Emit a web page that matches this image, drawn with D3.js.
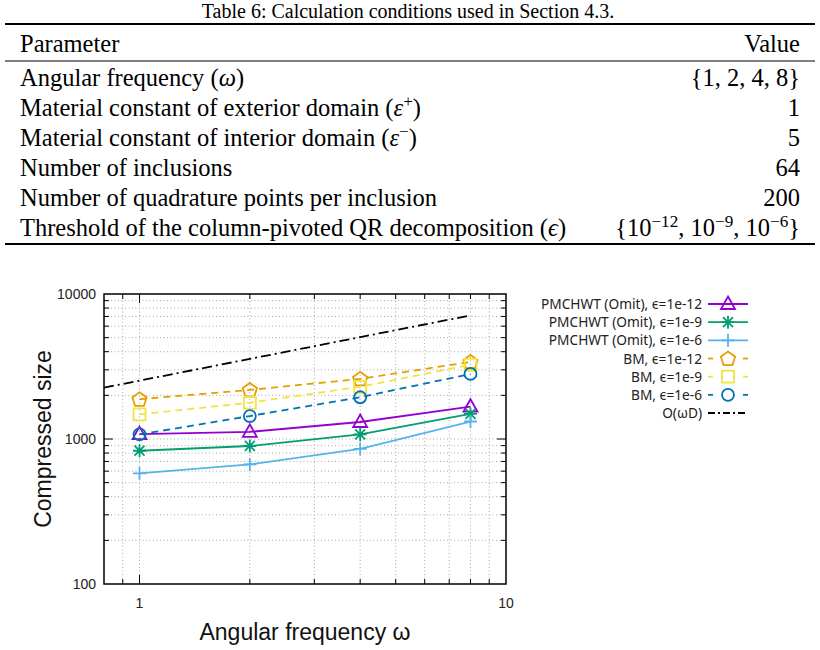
<!DOCTYPE html>
<meta charset="utf-8">
<script src="https://d3js.org/d3.v7.min.js"></script>
<style>
    body { margin: 0; background: #fff; }
    .tbl text { font-family: "Liberation Serif", serif; fill: #000; }
    .tick-label { font-family: "Liberation Sans", Arial, sans-serif; font-size: 14px; fill: #222; }
    .axis-title { font-family: "Liberation Sans", Arial, sans-serif; font-size: 23px; fill: #111; }
    .legend text { font-family: "Noto Sans", sans-serif; font-size: 13.7px; fill: #222; }
    .grid line { stroke: #aaa; stroke-width: 1; stroke-dasharray: 1,2.5; }
</style>
<body>
<svg width="820" height="650" id="chart"></svg>
</body>
<script>
    // ---- table ----
    const caption = 'Table 6: Calculation conditions used in Section 4.3.';
    const headers = ['Parameter', 'Value'];
    const paramNames = [
        'Angular frequency ($ω$)',
        'Material constant of exterior domain ($ε$^{+})',
        'Material constant of interior domain ($ε$^{−})',
        'Number of inclusions',
        'Number of quadrature points per inclusion',
        'Threshold of the column-pivoted QR decomposition ($ϵ$)'
    ];
    const paramValues = [
        '{1, 2, 4, 8}',
        '1',
        '5',
        '64',
        '200',
        '{10^{−12}, 10^{−9}, 10^{−6}}'
    ];

    // ---- chart data ----
    const omega = [1, 2, 4, 8];
    const pmchwt12 = [1080, 1120, 1310, 1670];
    const pmchwt9 = [830, 895, 1075, 1490];
    const pmchwt6 = [580, 668, 855, 1320];
    const bm12 = [1880, 2180, 2600, 3400];
    const bm9 = [1480, 1780, 2290, 3250];
    const bm6 = [1075, 1440, 1940, 2810];
    const refOmega = [0.8, 8];
    const refSize = [2260, 7120];

    const xTickLabels = [1, 10];
    const yTickLabels = [100, 1000, 10000];

    const seriesNames = [
        'PMCHWT (Omit), ϵ=1e-12',
        'PMCHWT (Omit), ϵ=1e-9',
        'PMCHWT (Omit), ϵ=1e-6',
        'BM, ϵ=1e-12',
        'BM, ϵ=1e-9',
        'BM, ϵ=1e-6',
        'O(ωD)'
    ];
    const seriesColors = ['#9400d3', '#009e73', '#56b4e9', '#e69f00', '#f0e442', '#0072b2', '#000'];
    const seriesMarkers = ['triangle', 'star', 'plus', 'pentagon', 'square', 'circle', null];
    const seriesValues = [pmchwt12, pmchwt9, pmchwt6, bm12, bm9, bm6];

    const svg = d3.select('#chart');

    // table drawing
    const tbl = svg.append('g').attr('class', 'tbl');
    const tblLeft = 5, tblRight = 815, padX = 15;
    const fs = 24.5;

    function richText(sel, str, size) {
        const parts = str.split(/(\^\{[^}]*\}|\$[^$]*\$)/).filter(s => s.length);
        let raised = false;
        parts.forEach(p => {
            const t = sel.append('tspan');
            if (p.startsWith('^{')) {
                t.text(p.slice(2, -1)).attr('font-size', size * 0.7).attr('dy', -size * 0.38);
                raised = true;
            } else {
                if (raised) { t.attr('dy', size * 0.38); raised = false; }
                if (p.startsWith('$')) t.text(p.slice(1, -1)).attr('font-style', 'italic');
                else t.text(p);
            }
        });
    }

    tbl.append('text')
        .attr('x', 408).attr('y', 18)
        .attr('text-anchor', 'middle')
        .attr('font-size', 20)
        .text(caption);

    tbl.append('line').attr('x1', tblLeft).attr('x2', tblRight)
        .attr('y1', 24).attr('y2', 24).attr('stroke', '#000').attr('stroke-width', 2);
    tbl.append('text').attr('x', tblLeft + padX).attr('y', 52).attr('font-size', fs).text(headers[0]);
    tbl.append('text').attr('x', tblRight - padX).attr('y', 52).attr('font-size', fs)
        .attr('text-anchor', 'end').text(headers[1]);
    tbl.append('line').attr('x1', tblLeft).attr('x2', tblRight)
        .attr('y1', 61).attr('y2', 61).attr('stroke', '#000').attr('stroke-width', 1.2);

    const rowY = d3.scaleLinear().domain([0, paramNames.length - 1]).range([86, 236]);
    paramNames.forEach((name, i) => {
        richText(tbl.append('text').attr('x', tblLeft + padX).attr('y', rowY(i)).attr('font-size', fs), name, fs);
        richText(tbl.append('text').attr('x', tblRight - padX).attr('y', rowY(i)).attr('font-size', fs)
            .attr('text-anchor', 'end'), paramValues[i], fs);
    });
    tbl.append('line').attr('x1', tblLeft).attr('x2', tblRight)
        .attr('y1', 244).attr('y2', 244).attr('stroke', '#000').attr('stroke-width', 2);

    // ---- plot ----
    const plot = { left: 104, right: 506, top: 294, bottom: 584 };
    const x = d3.scaleLog().domain([0.8, 10]).range([plot.left, plot.right]);
    const y = d3.scaleLog().domain([100, 10000]).range([plot.bottom, plot.top]);

    const xAll = x.ticks().filter(v => v > 0.8 && v < 10);
    const yAll = y.ticks().filter(v => v > 100 && v < 10000);
    const isMajor = v => Math.abs(Math.log10(v) - Math.round(Math.log10(v))) < 1e-9;

    const grid = svg.append('g').attr('class', 'grid');
    grid.selectAll('.gx').data(xAll).enter().append('line')
        .attr('x1', d => x(d)).attr('x2', d => x(d))
        .attr('y1', plot.top).attr('y2', plot.bottom);
    grid.selectAll('.gy').data(yAll).enter().append('line')
        .attr('y1', d => y(d)).attr('y2', d => y(d))
        .attr('x1', plot.left).attr('x2', plot.right);

    // ticks on all four sides, pointing inward
    const ticks = svg.append('g').attr('stroke', '#000').attr('stroke-width', 1);
    const tl = d => isMajor(d) ? 9 : 5;
    xAll.forEach(d => {
        ticks.append('line').attr('x1', x(d)).attr('x2', x(d)).attr('y1', plot.bottom).attr('y2', plot.bottom - tl(d));
        ticks.append('line').attr('x1', x(d)).attr('x2', x(d)).attr('y1', plot.top).attr('y2', plot.top + tl(d));
    });
    yAll.forEach(d => {
        ticks.append('line').attr('y1', y(d)).attr('y2', y(d)).attr('x1', plot.left).attr('x2', plot.left + tl(d));
        ticks.append('line').attr('y1', y(d)).attr('y2', y(d)).attr('x1', plot.right).attr('x2', plot.right - tl(d));
    });

    svg.selectAll('.xlab').data(xTickLabels).enter().append('text')
        .attr('class', 'tick-label')
        .attr('x', d => x(d)).attr('y', 608)
        .attr('text-anchor', 'middle')
        .text(d => d);
    svg.selectAll('.ylab').data(yTickLabels).enter().append('text')
        .attr('class', 'tick-label')
        .attr('x', plot.left - 8).attr('y', d => y(d) + 5)
        .attr('text-anchor', 'end')
        .text(d => d);

    svg.append('text').attr('class', 'axis-title')
        .attr('transform', 'translate(51,' + (plot.top + plot.bottom) / 2 + ') rotate(-90)')
        .attr('text-anchor', 'middle')
        .text('Compressed size');
    svg.append('text').attr('class', 'axis-title')
        .attr('x', (plot.left + plot.right) / 2).attr('y', 640)
        .attr('text-anchor', 'middle')
        .text('Angular frequency ω');

    // markers
    function markerPath(type) {
        if (type === 'triangle') return 'M0,-7.5L7,5L-7,5Z';
        if (type === 'square') return 'M-6,-6H6V6H-6Z';
        if (type === 'circle') return 'M6,0A6,6 0 1,1 -6,0A6,6 0 1,1 6,0Z';
        if (type === 'plus') return 'M-6.5,0H6.5M0,-6.5V6.5';
        if (type === 'star') return 'M-6.5,0H6.5M0,-6.5V6.5M-5,-5L5,5M-5,5L5,-5';
        if (type === 'pentagon') {
            const pts = d3.range(5).map(k => {
                const a = -Math.PI / 2 + k * 2 * Math.PI / 5;
                return [7.5 * Math.cos(a), 7.5 * Math.sin(a) + 0.5];
            });
            return 'M' + pts.join('L') + 'Z';
        }
        return '';
    }
    const dashes = ['none', 'none', 'none', '7,5', '7,5', '7,5', '10,4,2,4'];

    const line = d3.line().x(d => x(d[0])).y(d => y(d[1]));
    const plotG = svg.append('g');

    plotG.append('path')
        .datum(refOmega.map((w, i) => [w, refSize[i]]))
        .attr('d', line).attr('fill', 'none')
        .attr('stroke', '#000').attr('stroke-width', 1.8)
        .attr('stroke-dasharray', dashes[6]);

    seriesValues.forEach((vals, s) => {
        const pts = omega.map((w, i) => [w, vals[i]]);
        plotG.append('path').datum(pts)
            .attr('d', line).attr('fill', 'none')
            .attr('stroke', seriesColors[s]).attr('stroke-width', 1.8)
            .attr('stroke-dasharray', dashes[s]);
        plotG.selectAll(null).data(pts).enter().append('path')
            .attr('transform', d => 'translate(' + x(d[0]) + ',' + y(d[1]) + ')')
            .attr('d', markerPath(seriesMarkers[s]))
            .attr('fill', 'none')
            .attr('stroke', seriesColors[s]).attr('stroke-width', 1.8);
    });

    // border
    svg.append('rect')
        .attr('x', plot.left).attr('y', plot.top)
        .attr('width', plot.right - plot.left).attr('height', plot.bottom - plot.top)
        .attr('fill', 'none').attr('stroke', '#000').attr('stroke-width', 1.5);

    // legend
    const legend = svg.append('g').attr('class', 'legend');
    const legY = d3.scaleLinear().domain([0, 6]).range([304, 413]);
    const sx0 = 708, sx1 = 748;
    seriesNames.forEach((name, s) => {
        const g = legend.append('g').attr('transform', 'translate(0,' + legY(s) + ')');
        g.append('text').attr('x', 702).attr('y', 5).attr('text-anchor', 'end').text(name);
        if (s < 3) {
            g.append('line').attr('x1', sx0).attr('x2', sx1).attr('stroke', seriesColors[s]).attr('stroke-width', 1.8);
        } else if (s < 6) {
            g.append('line').attr('x1', sx0).attr('x2', sx0 + 5).attr('stroke', seriesColors[s]).attr('stroke-width', 1.8);
            g.append('line').attr('x1', sx1 - 5).attr('x2', sx1).attr('stroke', seriesColors[s]).attr('stroke-width', 1.8);
        } else {
            g.append('line').attr('x1', sx0).attr('x2', sx1).attr('stroke', '#000').attr('stroke-width', 1.8)
                .attr('stroke-dasharray', '7,3,2,3');
        }
        if (seriesMarkers[s]) {
            g.append('path').attr('transform', 'translate(' + (sx0 + sx1) / 2 + ',0)')
                .attr('d', markerPath(seriesMarkers[s]))
                .attr('fill', 'none').attr('stroke', seriesColors[s]).attr('stroke-width', 1.8);
        }
    });
</script>
